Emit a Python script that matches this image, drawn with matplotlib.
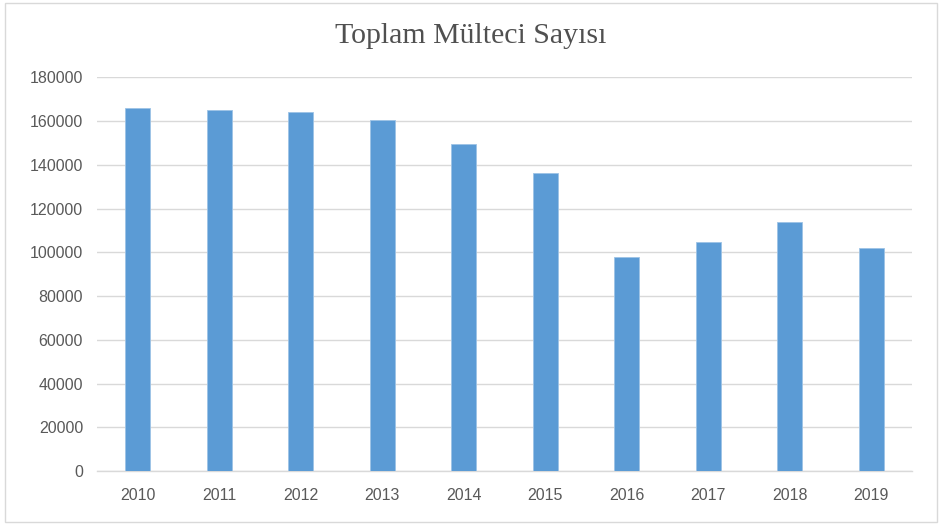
import matplotlib.pyplot as plt
from matplotlib.patches import Rectangle
import numpy as np

years = ['2010', '2011', '2012', '2013', '2014', '2015', '2016', '2017', '2018', '2019']
refugees = [165800, 165200, 164000, 160300, 149400, 136100, 97700, 104800, 114000, 101800]
yticks = list(range(0, 180001, 20000))

def main():
    fig = plt.figure(figsize=(9.42, 5.25), dpi=100)
    ax = fig.add_axes([97 / 942, 1 - 471 / 525, 815 / 942, (471 - 77.3) / 525])

    x = np.arange(len(years))
    ax.bar(x, refugees, width=0.31, color='#5B9BD5', edgecolor='#9DC3E6', linewidth=0.6, zorder=3)

    ax.set_xlim(-0.5, len(years) - 0.5)
    ax.set_ylim(0, 180000)
    ax.set_yticks(yticks)
    ax.set_yticklabels([str(v) for v in yticks])
    ax.set_xticks(x)
    ax.set_xticklabels(years)

    ax.grid(axis='y', color='#D9D9D9', linewidth=1, zorder=0)
    for side in ['top', 'right', 'left']:
        ax.spines[side].set_visible(False)
    ax.spines['bottom'].set_color('#D9D9D9')
    ax.spines['bottom'].set_linewidth(1)
    ax.tick_params(axis='both', length=0, colors='#595959', labelsize=11.5)
    ax.tick_params(axis='y', pad=10)
    ax.tick_params(axis='x', pad=12)
    for lbl in ax.get_xticklabels() + ax.get_yticklabels():
        lbl.set_fontfamily('Liberation Sans')

    fig.text(0.5, 1 - 36 / 525, 'Toplam Mülteci Sayısı', ha='center', va='center',
             fontsize=21.5, color='#505050', family='Liberation Serif')

    fig.patches.append(Rectangle((5 / 942, 3 / 525), 932 / 942, 519 / 525, transform=fig.transFigure,
                                 fill=False, edgecolor='#D9D9D9', linewidth=1))

    fig.savefig('out.png', dpi=100)

if __name__ == "__main__":
    main()
